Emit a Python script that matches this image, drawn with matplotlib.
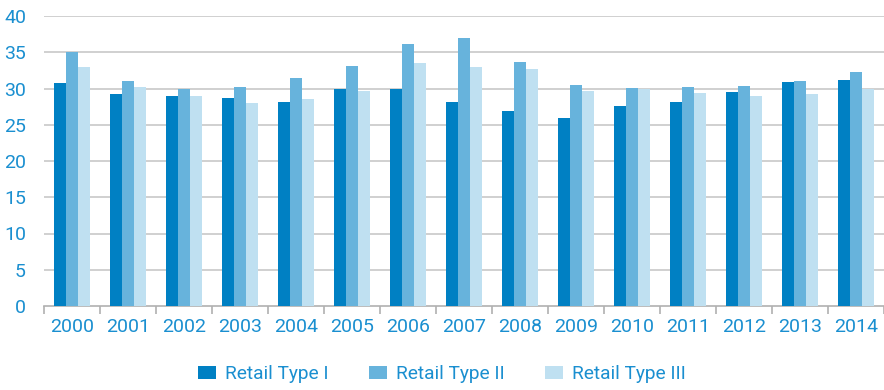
import numpy as np
import matplotlib.pyplot as plt
from matplotlib.patches import Patch

# Data
years = [str(y) for y in range(2000, 2015)]
retail_type_1 = [30.7, 29.3, 28.9, 28.7, 28.1, 30.0, 30.0, 28.1, 26.9, 26.0,
                 27.6, 28.2, 29.5, 30.9, 31.2]
retail_type_2 = [35.0, 31.1, 30.0, 30.2, 31.5, 33.1, 36.2, 37.0, 33.7, 30.5,
                 30.1, 30.2, 30.4, 31.1, 32.3]
retail_type_3 = [33.0, 30.2, 29.0, 28.0, 28.5, 29.7, 33.5, 32.9, 32.7, 29.7,
                 29.9, 29.4, 29.0, 29.3, 29.9]
series_names = ['Retail Type I', 'Retail Type II', 'Retail Type III']

colors = ['#0080c3', '#67b3dc', '#bfe0f1']
text_color = '#1a8fd0'
grid_color = '#c8c8c8'

plt.rcParams['font.family'] = ['Roboto', 'DejaVu Sans']

fig = plt.figure(figsize=(8.84, 3.9), dpi=100)
ax = fig.add_axes([44 / 884, 84 / 390, 840 / 884, 290 / 390])

x = np.arange(len(years))
width = 0.22
for i, (vals, c) in enumerate(zip([retail_type_1, retail_type_2, retail_type_3], colors)):
    ax.bar(x + (i - 1) * width, vals, width=width, color=c, zorder=3)

ax.set_xlim(-0.5, len(years) - 0.5)
ax.set_ylim(0, 40)

# y axis
ax.set_yticks(range(0, 41, 5))
ax.tick_params(axis='y', length=0, labelsize=14, labelcolor=text_color, pad=13)
for yv in range(5, 41, 5):
    ax.axhline(yv, color=grid_color, lw=1.2, zorder=1)

# x axis: ticks at group boundaries, labels at centres
ax.set_xticks(np.arange(-0.5, len(years), 1.0))
ax.set_xticklabels([])
ax.set_xticks(x, minor=True)
ax.set_xticklabels(years, minor=True)
ax.tick_params(axis='x', which='major', length=6, width=1.2, color='#b0b0b0')
ax.tick_params(axis='x', which='minor', length=0, labelsize=14,
               labelcolor=text_color, pad=9)

for s in ['top', 'right', 'left']:
    ax.spines[s].set_visible(False)
ax.spines['bottom'].set_color('#b0b0b0')
ax.spines['bottom'].set_linewidth(1.2)

handles = [Patch(facecolor=c, edgecolor='none') for c in colors]
leg = fig.legend(handles, series_names, loc='center', bbox_to_anchor=(0.5, 16 / 390),
                 ncol=3, frameon=False, fontsize=13.8, handlelength=0.92,
                 handleheight=0.68, handletextpad=0.5, columnspacing=2.1)
for t in leg.get_texts():
    t.set_color(text_color)

fig.savefig('out.png', dpi=100)
